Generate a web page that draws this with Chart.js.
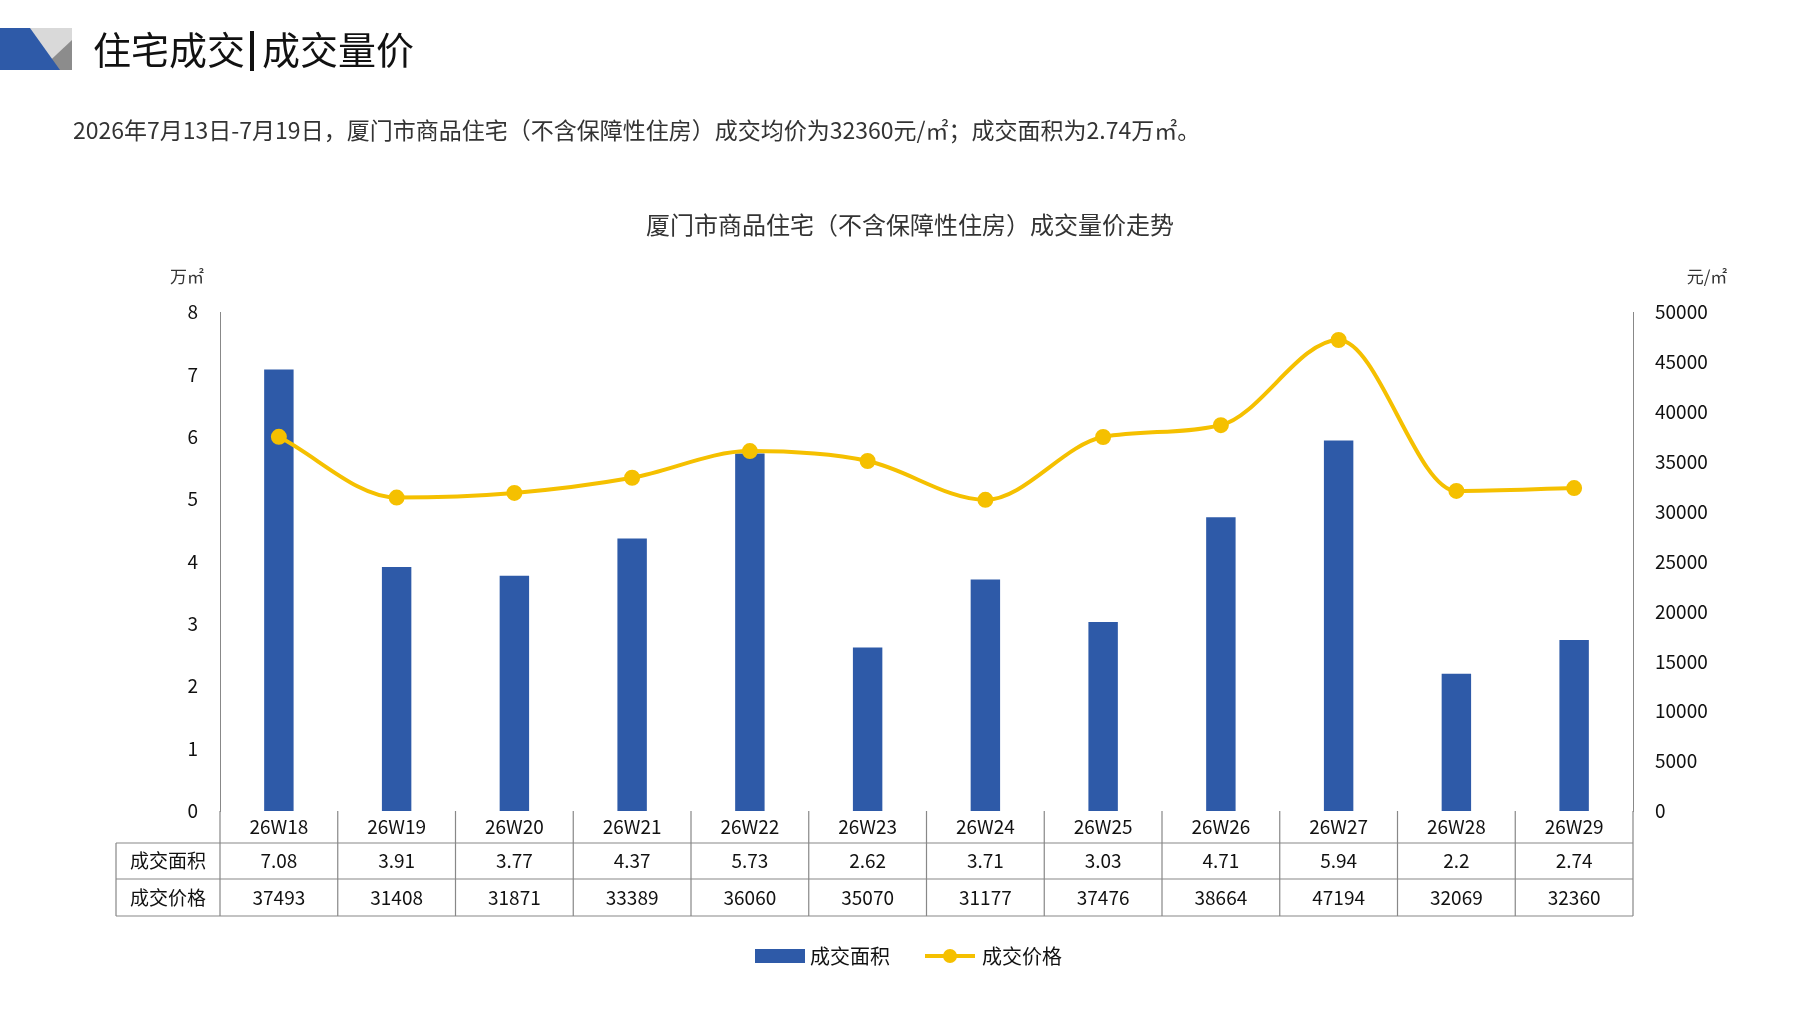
<!DOCTYPE html>
<html><head><meta charset="utf-8">
<script src="https://cdn.jsdelivr.net/npm/chart.js@4.4.0/dist/chart.umd.min.js"></script>
<style>html,body{margin:0;padding:0;background:#fff}#w{width:1797px;height:1010px}</style>
</head><body><div id="w"><canvas id="c"></canvas></div>
<script>
const categories=['26W18','26W19','26W20','26W21','26W22','26W23','26W24','26W25','26W26','26W27','26W28','26W29'];
const areaValues=[7.08,3.91,3.77,4.37,5.73,2.62,3.71,3.03,4.71,5.94,2.2,2.74];
const priceValues=[37493,31408,31871,33389,36060,35070,31177,37476,38664,47194,32069,32360];
const areaLabels=['7.08','3.91','3.77','4.37','5.73','2.62','3.71','3.03','4.71','5.94','2.2','2.74'];
const seriesNames=['成交面积','成交价格'];
const F='"Noto Sans CJK SC", "Noto Sans", sans-serif';
const BLUE='#2E5AA8', YEL='#F5C000';
const deco={id:'deco',afterDraw(ch){
 const c=ch.ctx,x=ch.scales.x,a=ch.chartArea;c.save();
 c.fillStyle='#d9d9d9';c.beginPath();c.moveTo(20,28);c.lineTo(72,28);c.lineTo(72,70);c.lineTo(20,70);c.fill();
 c.fillStyle='#8c8c8c';c.beginPath();c.moveTo(40,70);c.lineTo(72,40);c.lineTo(72,70);c.fill();
 c.fillStyle=BLUE;c.beginPath();c.moveTo(0,28);c.lineTo(30,28);c.lineTo(60,70);c.lineTo(0,70);c.fill();
 c.fillStyle='#111';c.font='38px '+F;c.textBaseline='middle';c.textAlign='left';
 c.fillText('住宅成交',93,50);c.fillRect(250,31,4,40);c.fillText('成交量价',262,50);
 c.font='23px '+F;c.fillStyle='#333';
 c.fillText('2026年7月13日-7月19日，厦门市商品住宅（不含保障性住房）成交均价为32360元/㎡；成交面积为2.74万㎡。',73,130);
 c.textAlign='center';c.font='24px '+F;c.fillText('厦门市商品住宅（不含保障性住房）成交量价走势',910,225);
 c.font='17px '+F;c.fillText('万㎡',187,277);c.fillText('元/㎡',1707,277);
 const L=116,R=a.right,y0=a.bottom,y1=y0+32,y2=y1+36,y3=y2+37;
 c.strokeStyle='#888';c.lineWidth=1.2;c.beginPath();
 [y1,y2,y3].forEach(y=>{c.moveTo(L,y);c.lineTo(R,y);});
 c.moveTo(L,y1);c.lineTo(L,y3);
 const w=(x.getPixelForValue(1)-x.getPixelForValue(0));
 for(let i=0;i<=categories.length;i++){const px=x.getPixelForValue(i)-w/2;c.moveTo(px,y0);c.lineTo(px,y3);}
 c.stroke();
 c.fillStyle='#111';c.font='19px '+F;
 categories.forEach((k,i)=>{const px=x.getPixelForValue(i);c.fillText(k,px,(y0+y1)/2);c.fillText(areaLabels[i],px,(y1+y2)/2);c.fillText(String(priceValues[i]),px,(y2+y3)/2);});
 c.fillText(seriesNames[0],(L+a.left)/2,(y1+y2)/2);c.fillText(seriesNames[1],(L+a.left)/2,(y2+y3)/2);
 const ly=956;c.fillStyle=BLUE;c.fillRect(755,ly-7,50,14);c.fillStyle='#111';c.textAlign='left';c.font='20px '+F;c.fillText(seriesNames[0],810,ly);
 c.strokeStyle=YEL;c.lineWidth=4;c.beginPath();c.moveTo(925,ly);c.lineTo(975,ly);c.stroke();
 c.fillStyle=YEL;c.beginPath();c.arc(950,ly,7,0,7);c.fill();c.fillStyle='#111';c.fillText(seriesNames[1],982,ly);
 c.restore();}};
new Chart(document.getElementById('c'),{
 data:{labels:categories,datasets:[
  {type:'line',data:priceValues,yAxisID:'y2',borderColor:YEL,backgroundColor:YEL,borderWidth:4,pointRadius:6,pointHoverRadius:6,cubicInterpolationMode:'monotone',tension:0.4,order:0},
  {type:'bar',data:areaValues,yAxisID:'y',backgroundColor:BLUE,barPercentage:0.25,categoryPercentage:1,order:1}]},
 options:{responsive:true,maintainAspectRatio:false,animation:false,devicePixelRatio:1,
  layout:{padding:{left:160,right:84,top:312,bottom:199}},
  plugins:{legend:{display:false},tooltip:{enabled:false}},
  scales:{
   x:{display:false,offset:true},
   y:{position:'left',min:0,max:8,ticks:{stepSize:1,color:'#111',font:{size:19,family:F},padding:14},grid:{display:false},border:{color:'#888'},afterFit(s){s.width=60;}},
   y2:{position:'right',min:0,max:50000,ticks:{stepSize:5000,color:'#111',font:{size:19,family:F},padding:14,callback:v=>String(v)},grid:{display:false},border:{color:'#888'},afterFit(s){s.width=80;}}
  }},
 plugins:[deco]});
</script></body></html>
